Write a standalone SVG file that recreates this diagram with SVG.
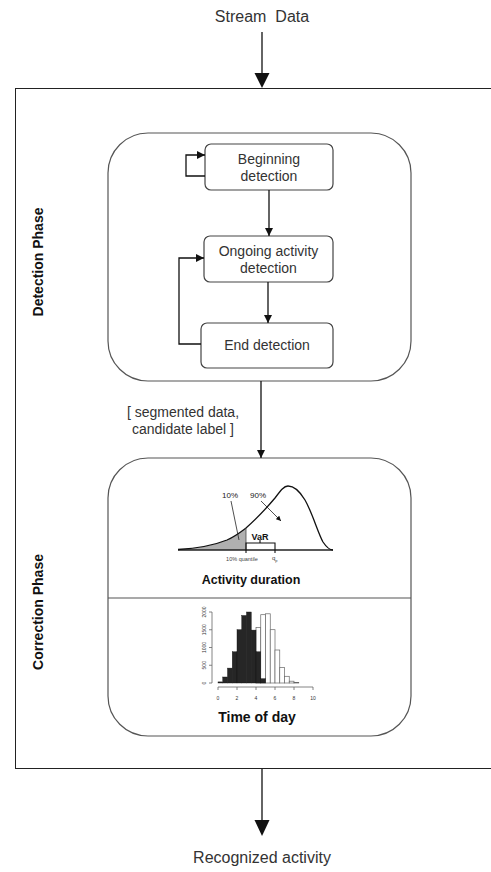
<svg xmlns="http://www.w3.org/2000/svg" width="491" height="872" viewBox="0 0 491 872">
<defs>
<style>
text{font-family:"Liberation Sans",Arial,sans-serif;fill:#333}
.t{font-size:14px}
.big{font-size:16px}
.b{font-weight:bold;fill:#111}
.box{fill:#fff;stroke:#555;stroke-width:1.2}
.inner{fill:#fff;stroke:#444;stroke-width:1.2}
.con{fill:none;stroke:#111;stroke-width:1.3}
.ax{fill:none;stroke:#666;stroke-width:0.8}
.tiny{font-size:5px;fill:#666}
</style>
<marker id="arr" viewBox="0 0 10 10" refX="10" refY="5" markerWidth="8" markerHeight="8" markerUnits="userSpaceOnUse" orient="auto"><path d="M0,0L10,5L0,10z" fill="#111"/></marker>
<marker id="sarr" viewBox="0 0 10 10" refX="10" refY="5" markerWidth="5" markerHeight="5" markerUnits="userSpaceOnUse" orient="auto"><path d="M0,0L10,5L0,10z" fill="#111"/></marker>
</defs>
<rect width="491" height="872" fill="#fff"/>

<g id="outer">
<rect x="15.5" y="88.5" width="520" height="680" fill="none" stroke="#222" stroke-width="1"/>
<text class="t b" transform="translate(43,262) rotate(-90)" text-anchor="middle">Detection Phase</text>
<text class="t b" transform="translate(43,612) rotate(-90)" text-anchor="middle">Correction Phase</text>
</g>

<g id="stream-data"><text class="big" x="262" y="22" text-anchor="middle" xml:space="preserve">Stream  Data</text></g>
<g id="recognized-activity"><text class="big" x="262" y="863" text-anchor="middle">Recognized activity</text></g>

<g id="detection-phase"><rect class="box" x="108" y="133" width="303" height="248" rx="40" ry="40"/></g>
<g id="beginning"><rect class="inner" x="205" y="144" width="128" height="46" rx="6"/>
<text class="t" x="269" y="164" text-anchor="middle">Beginning</text><text class="t" x="269" y="181" text-anchor="middle">detection</text></g>
<g id="ongoing"><rect class="inner" x="204" y="236" width="129" height="46" rx="6"/>
<text class="t" x="268.5" y="256" text-anchor="middle">Ongoing activity</text><text class="t" x="268.5" y="273" text-anchor="middle">detection</text></g>
<g id="end"><rect class="inner" x="201" y="323" width="132" height="45" rx="6"/>
<text class="t" x="267" y="350" text-anchor="middle">End detection</text></g>

<g id="segment-label"><text class="t" x="183" y="417" text-anchor="middle">[ segmented data,</text><text class="t" x="183" y="434" text-anchor="middle">candidate label ]</text></g>

<g id="correction-phase"><rect class="box" x="108" y="458" width="303" height="278" rx="40" ry="40"/>
<line x1="108" y1="598" x2="411" y2="598" stroke="#555" stroke-width="1.2"/></g>

<g id="activity-duration">
<path d="M178,549.5 C195,548.5 212,546 227,540 C236,536 242,531 246,528 L246,550 L178,550 Z" fill="#b0b0b0"/>
<line x1="178" y1="550" x2="333" y2="550" stroke="#222" stroke-width="1.6"/>
<path d="M178,549.5 C195,548.5 212,546 227,540 C236,536 242,531 246,528 C256,519 265,510 275,498 C281,490 284,486 288,486 C294,486 299,490 305,500 C312,512 318,533 323,542 C327,548 330,550 333,550" fill="none" stroke="#111" stroke-width="1.3"/>
<line x1="246" y1="528" x2="246" y2="550" stroke="#444" stroke-width="0.8"/>
<text x="230" y="498" text-anchor="middle" style="font-size:8px;fill:#222">10%</text>
<text x="258" y="498" text-anchor="middle" style="font-size:8px;fill:#222">90%</text>
<line x1="231" y1="501" x2="239" y2="540" stroke="#222" stroke-width="0.8"/>
<line x1="261" y1="501" x2="281" y2="521" stroke="#222" stroke-width="0.8" marker-end="url(#sarr)"/>
<text x="260" y="540" text-anchor="middle" style="font-size:9px;font-weight:bold;fill:#111">VaR</text>
<path d="M246,553 V543 H275 V553 M260,543 V540" fill="none" stroke="#111" stroke-width="1.1"/>
<text x="242" y="561" text-anchor="middle" style="font-size:5.5px;fill:#444">10% quantile</text>
<text x="272" y="560" style="font-size:6px;fill:#444">q<tspan dy="1.5" style="font-size:4px">p</tspan></text>
<text class="b" x="251" y="584" text-anchor="middle" style="font-size:12.5px">Activity duration</text>
</g>

<g id="time-of-day">
<g fill="#fff" stroke="#666" stroke-width="0.7">
<rect x="256" y="627.6" width="4.75" height="55.4"/>
<rect x="260.75" y="614.7" width="4.75" height="68.3"/>
<rect x="265.5" y="613.8" width="4.75" height="69.2"/>
<rect x="270.25" y="629.7" width="4.75" height="53.3"/>
<rect x="275" y="650" width="4.75" height="33"/>
<rect x="279.75" y="667.4" width="4.75" height="15.6"/>
<rect x="284.5" y="676.3" width="4.75" height="6.7"/>
<rect x="289.25" y="681.2" width="4.75" height="1.8"/>
<rect x="294" y="682.6" width="4.75" height="0.4"/>
</g>
<g fill="#262626" stroke="#111" stroke-width="0.4">
<rect x="218" y="681.9" width="4.75" height="1.1"/>
<rect x="222.75" y="677" width="4.75" height="6"/>
<rect x="227.5" y="668.1" width="4.75" height="14.9"/>
<rect x="232.25" y="651.8" width="4.75" height="31.2"/>
<rect x="237" y="629.7" width="4.75" height="53.3"/>
<rect x="241.75" y="615.5" width="4.75" height="67.5"/>
<rect x="246.5" y="612" width="4.75" height="71"/>
<rect x="251.25" y="630.1" width="4.75" height="52.9"/>
<rect x="256" y="651.8" width="4.75" height="31.2"/>
<rect x="260.75" y="678.7" width="4.75" height="4.3"/>
</g>
<path class="ax" d="M212,612 V683 M209,612 H212 M209,629.75 H212 M209,647.5 H212 M209,665.25 H212 M209,683 H212"/>
<path class="ax" d="M218,687 H313 M218,687 V690 M237,687 V690 M256,687 V690 M275,687 V690 M294,687 V690 M313,687 V690"/>
<g class="tiny" text-anchor="middle">
<text transform="translate(206,683) rotate(-90)">0</text>
<text transform="translate(206,665.25) rotate(-90)">500</text>
<text transform="translate(206,647.5) rotate(-90)">1000</text>
<text transform="translate(206,629.75) rotate(-90)">1500</text>
<text transform="translate(206,612) rotate(-90)">2000</text>
<text x="218" y="700">0</text><text x="237" y="700">2</text><text x="256" y="700">4</text>
<text x="275" y="700">6</text><text x="294" y="700">8</text><text x="313" y="700">10</text>
</g>
<text class="b" x="257" y="722" text-anchor="middle" style="font-size:14px">Time of day</text>
</g>

<g id="connectors">
<line class="con" x1="262" y1="32" x2="262" y2="74"/>
<path d="M254.5,73 L269.5,73 L262,88 Z" fill="#111"/>
<line class="con" x1="262" y1="769" x2="262" y2="821"/>
<path d="M254.5,820 L269.5,820 L262,836 Z" fill="#111"/>
<line class="con" x1="269" y1="190" x2="269" y2="236" marker-end="url(#arr)"/>
<line class="con" x1="268" y1="282" x2="268" y2="323" marker-end="url(#arr)"/>
<polyline class="con" points="205,176 186,176 186,155 205,155" marker-end="url(#arr)"/>
<polyline class="con" points="201,344 179,344 179,258 204,258" marker-end="url(#arr)"/>
<line class="con" x1="261" y1="381" x2="261" y2="458" marker-end="url(#arr)"/>
</g>
</svg>
